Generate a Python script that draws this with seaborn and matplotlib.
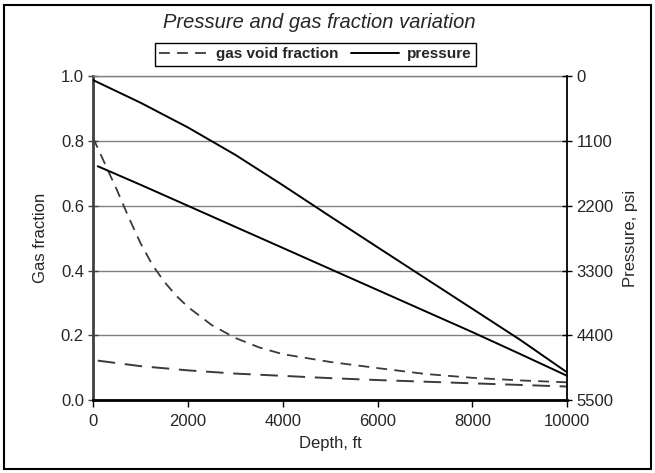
import numpy as np
import pandas as pd
import matplotlib
matplotlib.use("Agg")
import matplotlib.pyplot as plt
import seaborn as sns
from matplotlib.lines import Line2D
from matplotlib.patches import Rectangle

# ---- data ----
depth_gas1 = [0, 250, 500, 750, 1000, 1250, 1500, 1750, 2000, 2500, 3000, 3500,
              4000, 5000, 6000, 7000, 8000, 9000, 10000]
gas_void1 = [0.81, 0.73, 0.65, 0.565, 0.485, 0.418, 0.366, 0.323, 0.288, 0.232,
             0.192, 0.163, 0.142, 0.118, 0.099, 0.081, 0.069, 0.061, 0.055]

depth_gas2 = [100, 1000, 2000, 3000, 4000, 5000, 6000, 7000, 8000, 9000, 10000]
gas_void2 = [0.122, 0.105, 0.092, 0.082, 0.075, 0.068, 0.062, 0.057, 0.052,
             0.047, 0.042]

depth_p1 = [0, 1000, 2000, 3000, 4000, 5000, 6000, 7000, 8000, 9000, 10000]
pressure1 = [66, 450, 870, 1335, 1850, 2380, 2904, 3427, 3949, 4472, 5030]

depth_p2 = [100, 1000, 2000, 3000, 4000, 5000, 6000, 7000, 8000, 9000, 10000]
pressure2 = [1529, 1843, 2200, 2558, 2915, 3273, 3630, 3988, 4345, 4714, 5088]

left_ticks = [0.0, 0.2, 0.4, 0.6, 0.8, 1.0]
right_ticks = [0, 1100, 2200, 3300, 4400, 5500]
x_ticks = [0, 2000, 4000, 6000, 8000, 10000]

sns.set_style("white")
plt.rcParams['font.family'] = ['Liberation Sans', 'DejaVu Sans']

fig = plt.figure(figsize=(6.55, 4.73), dpi=100)
ax = fig.add_axes([0.142, 0.154, 0.724, 0.685])
ax2 = ax.twinx()

g1 = pd.DataFrame({"depth": depth_gas1, "val": gas_void1})
g2 = pd.DataFrame({"depth": depth_gas2, "val": gas_void2})
p1 = pd.DataFrame({"depth": depth_p1, "val": pressure1})
p2 = pd.DataFrame({"depth": depth_p2, "val": pressure2})

dash_col = "#3a3a3a"
sns.lineplot(data=g1, x="depth", y="val", ax=ax, color=dash_col, lw=1.3,
             linestyle=(0, (6, 4)), legend=False)
sns.lineplot(data=g2, x="depth", y="val", ax=ax, color=dash_col, lw=1.4,
             linestyle=(0, (9, 5)), legend=False)
sns.lineplot(data=p1, x="depth", y="val", ax=ax2, color="black", lw=1.4,
             legend=False)
sns.lineplot(data=p2, x="depth", y="val", ax=ax2, color="black", lw=1.4,
             legend=False)

ax.set_xlim(0, 10000)
ax.set_ylim(0, 1.0)
ax2.set_ylim(5500, 0)

ax.set_xticks(x_ticks)
ax.set_xticklabels([str(v) for v in x_ticks])
ax.set_yticks(left_ticks)
ax.set_yticklabels([f"{v:.1f}" for v in left_ticks])
ax2.set_yticks(right_ticks)
ax2.set_yticklabels([str(v) for v in right_ticks])

ax.yaxis.grid(True, color="#808080", lw=1)
ax.xaxis.grid(False)
ax2.grid(False)

for s in ax.spines.values():
    s.set_visible(False)
for s in ax2.spines.values():
    s.set_visible(False)
ax.spines['left'].set_visible(True)
ax.spines['left'].set_color("#404040")
ax.spines['left'].set_linewidth(2)
ax.spines['bottom'].set_visible(True)
ax.spines['bottom'].set_color("black")
ax.spines['bottom'].set_linewidth(2)
ax.spines['top'].set_visible(True)
ax.spines['top'].set_color("#808080")
ax.spines['top'].set_linewidth(1)
ax2.spines['right'].set_visible(True)
ax2.spines['right'].set_color("black")
ax2.spines['right'].set_linewidth(1.3)

ax.tick_params(axis='y', direction='inout', length=7, width=1, color="#404040",
               labelsize=12, pad=3, left=True)
ax.tick_params(axis='x', direction='out', length=5, width=1, color="black",
               labelsize=12, pad=5, bottom=True)
ax2.tick_params(axis='y', direction='inout', length=7, width=1, color="black",
                labelsize=12, pad=3, right=True)

ax.set_xlabel("Depth, ft", fontsize=12, labelpad=5)
ax.set_ylabel("Gas fraction", fontsize=12, labelpad=9)
ax2.set_ylabel("Pressure, psi", fontsize=12, labelpad=7)

fig.text(0.487, 0.952, "Pressure and gas fraction variation", ha="center",
         va="center", fontsize=14.5, style="italic")

handles = [Line2D([0], [0], color=dash_col, lw=1.3, linestyle=(0, (6, 4))),
           Line2D([0], [0], color="black", lw=1.4)]
leg = fig.legend(handles, ["gas void fraction", "pressure"], ncol=2,
                 loc="center", bbox_to_anchor=(0.4817, 0.885), frameon=True,
                 fancybox=False, edgecolor="black", framealpha=1,
                 prop={"weight": "bold", "size": 11}, handlelength=3.2,
                 columnspacing=0.8, handletextpad=0.5, borderpad=0.3,
                 borderaxespad=0)
leg.get_frame().set_linewidth(1)

fig.patches.append(Rectangle((0.006, 0.008), 0.988, 0.982,
                             transform=fig.transFigure, fill=False,
                             edgecolor="black", lw=1.5))

fig.savefig("out.png", dpi=100)
